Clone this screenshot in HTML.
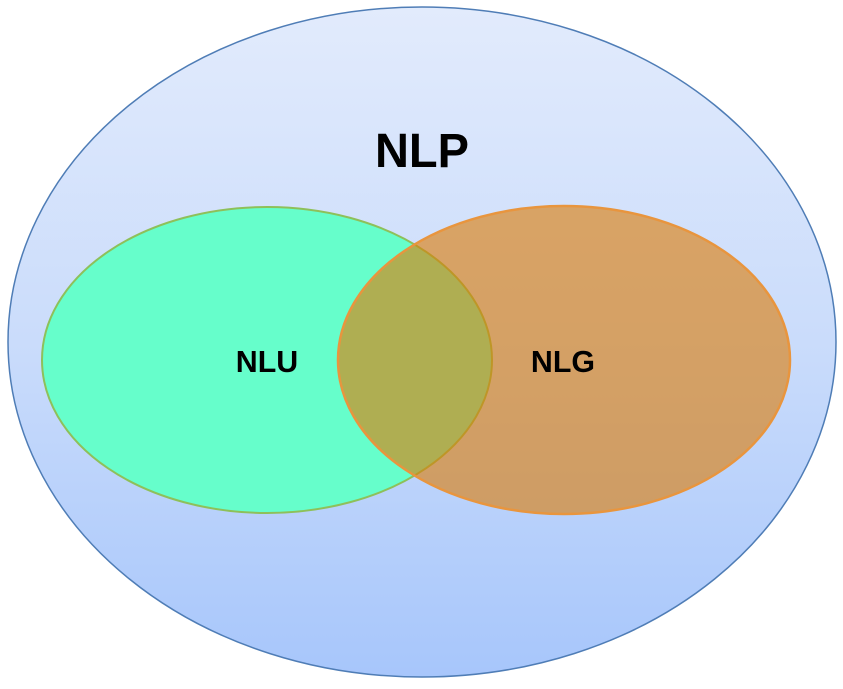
<!DOCTYPE html>
<html><head><style>html,body{margin:0;padding:0;background:#fff;width:843px;height:689px;overflow:hidden}</style></head>
<body>
<svg width="843" height="689" viewBox="0 0 843 689" xmlns="http://www.w3.org/2000/svg">
<defs>
<linearGradient id="bg" x1="0" y1="0" x2="0" y2="1">
<stop offset="0" stop-color="#e2ebfc"/>
<stop offset="0.5" stop-color="#cadcfb"/>
<stop offset="1" stop-color="#a7c6fb"/>
</linearGradient>
</defs>
<ellipse cx="422" cy="342" rx="414" ry="335" fill="url(#bg)" stroke="#4f7db6" stroke-width="1.5"/>
<ellipse cx="267" cy="360" rx="225" ry="153" fill="#66fecb" stroke="#8ec05a" stroke-width="2"/>
<ellipse cx="564" cy="360" rx="226" ry="154" fill="#dc7c08" fill-opacity="0.62" stroke="#e8953e" stroke-width="2.5"/>
<g font-family="'Liberation Sans', sans-serif" font-weight="bold" fill="#000" text-anchor="middle">
<text x="422" y="167" font-size="48" transform="translate(422 0) scale(0.98 1) translate(-422 0)">NLP</text>
<text x="267" y="372" font-size="31" transform="translate(267 0) scale(0.98 1) translate(-267 0)">NLU</text>
<text x="563" y="372" font-size="31" transform="translate(563 0) scale(0.98 1) translate(-563 0)">NLG</text>
</g>
</svg>
</body></html>
